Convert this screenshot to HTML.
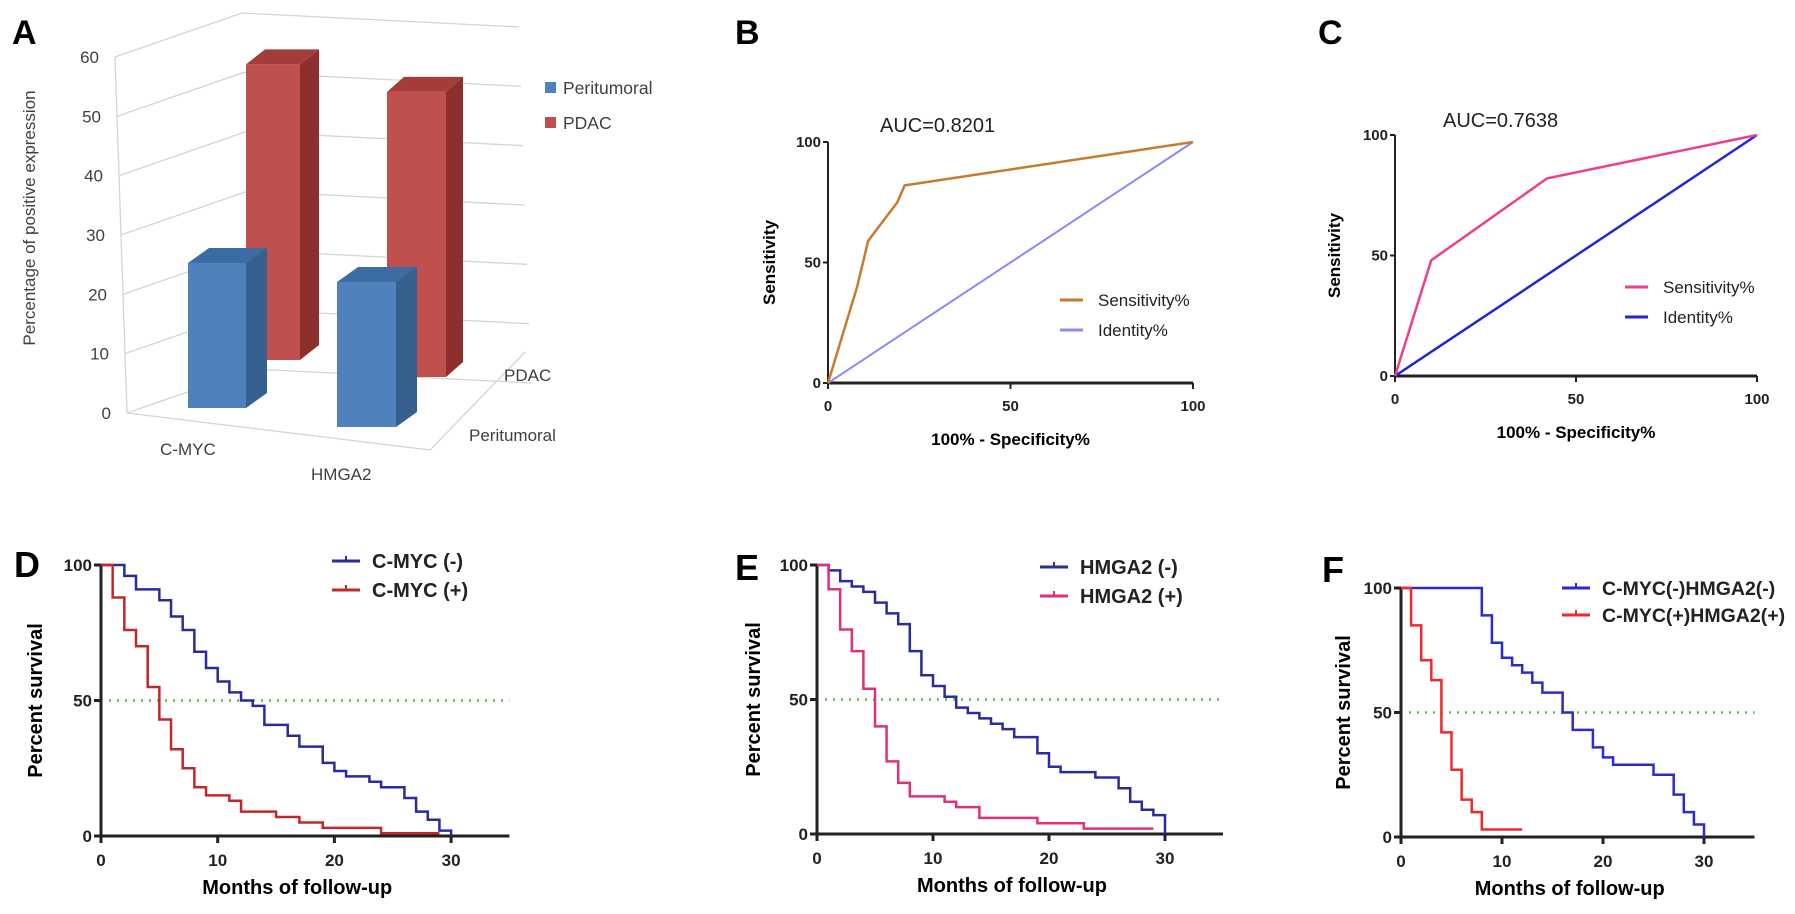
<!DOCTYPE html>
<html><head><meta charset="utf-8"><style>
html,body{margin:0;padding:0;background:#fff;}
svg{display:block;font-family:"Liberation Sans",Arial,sans-serif;}
</style></head><body>
<svg id="fig" width="1795" height="914" viewBox="0 0 1795 914"></svg>
<script>
// ---------- DATA ----------
const barCategories = ["C-MYC", "HMGA2"];
const barSeries = ["Peritumoral", "PDAC"];
const peritumoralValues = [24.5, 24.5];
const pdacValues = [56, 54];
const barTicks = [0, 10, 20, 30, 40, 50, 60];

const rocB_x = [0, 8, 11, 19, 21, 100];
const rocB_y = [0, 40, 59, 75, 82, 100];
const rocC_x = [0, 10, 42, 100];
const rocC_y = [0, 48, 82, 100];
const rocTicks = [0, 50, 100];
const aucB = "AUC=0.8201";
const aucC = "AUC=0.7638";

const kmTicksX = [0, 10, 20, 30];
const kmTicksY = [0, 50, 100];
const dNegT = [0, 2, 3, 5, 6, 7, 8, 9, 10, 11, 12, 13, 14, 16, 17, 19, 20, 21, 23, 24, 26, 27, 28, 29, 30];
const dNegS = [100, 96, 91, 87, 81, 76, 68, 62, 57, 53, 50, 48, 41, 37, 33, 27, 24, 22, 20, 18, 14, 9, 6, 2, 0];
const dPosT = [0, 1, 2, 3, 4, 5, 6, 7, 8, 9, 11, 12, 15, 17, 19, 24, 29];
const dPosS = [100, 88, 76, 70, 55, 43, 32, 25, 18, 15, 13, 9, 7, 5, 3, 1, 1];
const eNegT = [0, 1, 2, 3, 4, 5, 6, 7, 8, 9, 10, 11, 12, 13, 14, 15, 16, 17, 19, 20, 21, 24, 26, 27, 28, 29, 30];
const eNegS = [100, 98, 94, 92, 90, 86, 82, 78, 68, 59, 55, 51, 47, 45, 43, 41, 39, 36, 30, 25, 23, 21, 17, 12, 9, 7, 0];
const ePosT = [0, 1, 2, 3, 4, 5, 6, 7, 8, 11, 12, 14, 19, 23, 29];
const ePosS = [100, 91, 76, 68, 54, 40, 27, 19, 14, 12, 10, 6, 4, 2, 2];
const fNegT = [0, 8, 9, 10, 11, 12, 13, 14, 16, 17, 19, 20, 21, 25, 27, 28, 29, 30];
const fNegS = [100, 89, 78, 72, 69, 66, 62, 58, 50, 43, 36, 32, 29, 25, 17, 10, 5, 0];
const fPosT = [0, 1, 2, 3, 4, 5, 6, 7, 8, 12];
const fPosS = [100, 85, 71, 63, 42, 27, 15, 10, 3, 3];

// ---------- HELPERS ----------
const NS = "http://www.w3.org/2000/svg";
const svg = document.getElementById("fig");
function mk(tag, attrs, parent) {
  const e = document.createElementNS(NS, tag);
  for (const k in attrs) e.setAttribute(k, attrs[k]);
  (parent || svg).appendChild(e);
  return e;
}
function txt(s, attrs, parent) { const e = mk("text", attrs, parent); e.textContent = s; return e; }

// ---------- PANEL A (3D bars) ----------
(function () {
  const g = mk("g", {});
  
  
  const L = txt("A", {x: 12, y: 44, "font-size": 34, "font-weight": "bold", fill: "#000"}, g);
  
  
  const yv = v => 413 - v * (356 / 60);
  const xl = v => 127 - v * (12 / 60);
  barTicks.forEach(v => {
    const x0 = xl(v), y0 = yv(v);
    const p = mk("polyline", {points: `${x0},${y0} ${x0 + 127},${y0 - 44} ${x0 + 404},${y0 - 30}`, fill: "none", stroke: "#d4d4d4", "stroke-width": 1.3}, g);
    
    
    const t = txt(String(v), {x: x0 - 16, y: y0 + 6, "font-size": 17, fill: "#404040", "text-anchor": "end"}, g);
    
    
  });
  mk("line", {x1: 115, y1: 57, x2: 127, y2: 413, stroke: "#d4d4d4", "stroke-width": 1.3}, g);
  mk("polyline", {points: "127,413 430,450 525,352", fill: "none", stroke: "#d4d4d4", "stroke-width": 1.3}, g);
  const yl = txt("Percentage of positive expression", {x: 0, y: 0, "font-size": 17, fill: "#404040", "text-anchor": "middle", transform: "translate(35,218) rotate(-90)"}, g);
  
  
  const geo = [
    [{x: 188, y: 408, w: 58, d: 21, k: 5.92}, {x: 337, y: 427, w: 59, d: 21, k: 5.92}],
    [{x: 246, y: 360, w: 54, d: 19, k: 5.28}, {x: 387, y: 377, w: 59, d: 17, k: 5.28}]
  ];
  const vals = [peritumoralValues, pdacValues];
  const cols = [["#4f81bd", "#36618f", "#3d6ca4"], ["#c0504d", "#8c2f2d", "#a43c39"]];
  [1, 0].forEach(s => {
    vals[s].forEach((v, i) => {
      const b = geo[s][i], h = v * b.k, top = b.y - h;
      const bg = mk("g", {}, g);
      
      
      mk("polygon", {points: `${b.x + b.w},${top} ${b.x + b.w + b.d},${top - 15} ${b.x + b.w + b.d},${b.y - 15} ${b.x + b.w},${b.y}`, fill: cols[s][1]}, bg);
      mk("polygon", {points: `${b.x},${top} ${b.x + b.d},${top - 15} ${b.x + b.w + b.d},${top - 15} ${b.x + b.w},${top}`, fill: cols[s][2]}, bg);
      mk("rect", {x: b.x, y: top, width: b.w, height: h, fill: cols[s][0]}, bg);
    });
  });
  const c1 = txt(barCategories[0], {x: 160, y: 455, "font-size": 17, fill: "#404040"}, g);
   
  const c2 = txt(barCategories[1], {x: 311, y: 480, "font-size": 17, fill: "#404040"}, g);
   
  const s1 = txt("PDAC", {x: 504, y: 381, "font-size": 17, fill: "#404040"}, g);
   
  const s2 = txt("Peritumoral", {x: 469, y: 441, "font-size": 17, fill: "#404040"}, g);
   
  barSeries.forEach((n, i) => {
    const lg = mk("g", {}, g);
    
    
    const y = 88 + i * 35;
    mk("rect", {x: 545, y: y - 6, width: 11, height: 11, fill: cols[i][0]}, lg);
    txt(n, {x: 563, y: y + 6, "font-size": 17.5, fill: "#404040"}, lg);
  });
})();

// ---------- ROC panels ----------
function roc(o) {
  const g = mk("g", {});
  
  
  const X = v => o.x0 + (o.x1 - o.x0) * v / 100;
  const Y = v => o.y0 - (o.y0 - o.y1) * v / 100;
  const L = txt(o.letter, {x: o.lx, y: 44, "font-size": 34, "font-weight": "bold"}, g);
   
  const a = txt(o.auc, {x: o.ax, y: o.ay, "font-size": 20, fill: "#222"}, g);
   
  mk("line", {x1: X(0), y1: Y(0), x2: X(0), y2: Y(100), stroke: "#222", "stroke-width": 2}, g);
  mk("line", {x1: X(0), y1: Y(0), x2: X(100), y2: Y(0), stroke: "#222", "stroke-width": 3}, g);
  rocTicks.forEach(t => {
    mk("line", {x1: X(t), y1: Y(0), x2: X(t), y2: Y(0) + 6, stroke: "#222", "stroke-width": 2}, g);
    const tx = txt(String(t), {x: X(t), y: Y(0) + 28, "font-size": 15, "font-weight": "bold", "text-anchor": "middle", fill: "#222"}, g);
     
    mk("line", {x1: X(0) - 5, y1: Y(t), x2: X(0), y2: Y(t), stroke: "#222", "stroke-width": 2}, g);
    const ty = txt(String(t), {x: X(0) - 7, y: Y(t) + 5, "font-size": 15, "font-weight": "bold", "text-anchor": "end", fill: "#222"}, g);
     
  });
  const idl = mk("line", {x1: X(0), y1: Y(0), x2: X(100), y2: Y(100), stroke: o.idc, "stroke-width": o.idw}, g);
   
  const sl = mk("polyline", {points: o.xs.map((v, i) => X(v) + "," + Y(o.ys[i])).join(" "), fill: "none", stroke: o.sc, "stroke-width": 2.5}, g);
   
  const yl = txt("Sensitivity", {x: 0, y: 0, "font-size": 17, "font-weight": "bold", "text-anchor": "middle", transform: `translate(${o.ylx},${(Y(0) + Y(100)) / 2}) rotate(-90)`}, g);
   
  const xl = txt("100% - Specificity%", {x: (X(0) + X(100)) / 2, y: o.xly, "font-size": 17, "font-weight": "bold", "text-anchor": "middle"}, g);
   
  [["Sensitivity%", o.sc], ["Identity%", o.idc]].forEach((e, i) => {
    const lg = mk("g", {}, g);
    
    
    const y = o.legy + i * 30;
    mk("line", {x1: o.legx, y1: y, x2: o.legx + 23, y2: y, stroke: e[1], "stroke-width": 3}, lg);
    txt(e[0], {x: o.legx + 38, y: y + 6, "font-size": 17, fill: "#222"}, lg);
  });
}
roc({name: "panel-b", letter: "B", lx: 735, x0: 828, x1: 1193, y0: 383, y1: 142, xs: rocB_x, ys: rocB_y, sc: "#c87a2e", idc: "#8a8af0", idw: 2, auc: aucB, ax: 880, ay: 132, ylx: 775, xly: 445, legx: 1060, legy: 300});
roc({name: "panel-c", letter: "C", lx: 1318, x0: 1395, x1: 1757, y0: 376, y1: 135, xs: rocC_x, ys: rocC_y, sc: "#ee3f8e", idc: "#2323e0", idw: 2.5, auc: aucC, ax: 1443, ay: 127, ylx: 1340, xly: 438, legx: 1625, legy: 287});

// ---------- KM panels ----------
function km(o) {
  const g = mk("g", {});
  
  
  const X = t => o.x0 + o.px * t;
  const Y = v => o.y0 - (o.y0 - o.y1) * v / 100;
  const L = txt(o.letter, {x: o.lx, y: o.ly, "font-size": 36, "font-weight": "bold"}, g);
   
  const ref = mk("line", {x1: X(0) + 8, y1: Y(50), x2: X(35), y2: Y(50), stroke: "#5fb85f", "stroke-width": 2.5, "stroke-dasharray": "2 6"}, g);
   
  mk("line", {x1: X(0), y1: Y(0), x2: X(0), y2: Y(100), stroke: "#222", "stroke-width": 3}, g);
  mk("line", {x1: X(0), y1: Y(0), x2: X(35), y2: Y(0), stroke: "#222", "stroke-width": 3}, g);
  kmTicksX.forEach(t => {
    mk("line", {x1: X(t), y1: Y(0), x2: X(t), y2: Y(0) + 7, stroke: "#222", "stroke-width": 3}, g);
    const tx = txt(String(t), {x: X(t), y: Y(0) + 30, "font-size": 17, "font-weight": "bold", "text-anchor": "middle", fill: "#222"}, g);
     
  });
  kmTicksY.forEach(t => {
    mk("line", {x1: X(0) - 7, y1: Y(t), x2: X(0), y2: Y(t), stroke: "#222", "stroke-width": 3}, g);
    const ty = txt(String(t), {x: X(0) - 9, y: Y(t) + 6, "font-size": 17, "font-weight": "bold", "text-anchor": "end", fill: "#222"}, g);
     
  });
  o.series.forEach((s, k) => {
    let pts = [];
    for (let i = 0; i < s.t.length; i++) {
      if (i > 0) pts.push(X(s.t[i]) + "," + Y(s.s[i - 1]));
      pts.push(X(s.t[i]) + "," + Y(s.s[i]));
    }
    const p = mk("polyline", {points: pts.join(" "), fill: "none", stroke: s.c, "stroke-width": 2.5}, g);
    
    
    const lg = mk("g", {}, g);
    
    
    const y = o.legy + k * o.legdy;
    mk("line", {x1: o.legx, y1: y, x2: o.legx + 28, y2: y, stroke: s.c, "stroke-width": 3}, lg);
    mk("line", {x1: o.legx + 14, y1: y - 5, x2: o.legx + 14, y2: y, stroke: s.c, "stroke-width": 2}, lg);
    txt(s.label, {x: o.legx + 40, y: y + 7, "font-size": o.legfs, "font-weight": "bold", fill: "#222"}, lg);
  });
  const yl = txt("Percent survival", {x: 0, y: 0, "font-size": 20, "font-weight": "bold", "text-anchor": "middle", transform: `translate(${o.ylx},${(Y(0) + Y(100)) / 2}) rotate(-90)`}, g);
   
  const xl = txt("Months of follow-up", {x: X(17.5) - 8, y: o.y0 + 58, "font-size": 20, "font-weight": "bold", "text-anchor": "middle"}, g);
   
}
km({name: "panel-d", letter: "D", lx: 14, ly: 577, x0: 101, px: 11.67, y0: 836, y1: 565, ylx: 42, legx: 332, legy: 561, legdy: 29, legfs: 20,
  series: [{t: dNegT, s: dNegS, c: "#2b2ba0", label: "C-MYC (-)"}, {t: dPosT, s: dPosS, c: "#c0282a", label: "C-MYC (+)"}]});
km({name: "panel-e", letter: "E", lx: 735, ly: 580, x0: 817, px: 11.6, y0: 834, y1: 565, ylx: 760, legx: 1040, legy: 567, legdy: 29, legfs: 20,
  series: [{t: eNegT, s: eNegS, c: "#2b2ba0", label: "HMGA2 (-)"}, {t: ePosT, s: ePosS, c: "#e0307a", label: "HMGA2 (+)"}]});
km({name: "panel-f", letter: "F", lx: 1322, ly: 582, x0: 1401, px: 10.1, y0: 837, y1: 588, ylx: 1350, legx: 1562, legy: 588, legdy: 27, legfs: 19.5,
  series: [{t: fNegT, s: fNegS, c: "#2b2bd0", label: "C-MYC(-)HMGA2(-)"}, {t: fPosT, s: fPosS, c: "#f02a2a", label: "C-MYC(+)HMGA2(+)"}]});
</script>
</body></html>
